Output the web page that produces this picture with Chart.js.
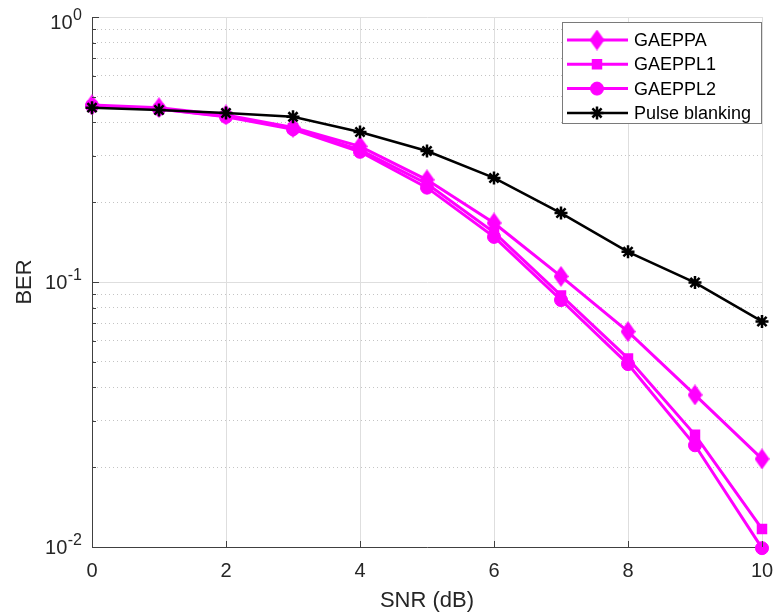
<!DOCTYPE html>
<html>
<head>
<meta charset="utf-8">
<script src="https://cdn.jsdelivr.net/npm/chart.js"></script>
<style>
    html, body { margin: 0; padding: 0; background: #ffffff; }
</style>
</head>
<body>
<canvas id="chart-ber" width="773" height="615"></canvas>
<script>

// BER theo SNR cho cac phuong phap
var snr = [0, 1, 2, 3, 4, 5, 6, 7, 8, 9, 10];
var berGaeppa = [0.466, 0.455, 0.427, 0.383, 0.325, 0.243, 0.167, 0.105, 0.065, 0.0375, 0.0215];
var berGaeppl1 = [0.462, 0.450, 0.422, 0.380, 0.315, 0.235, 0.154, 0.089, 0.0515, 0.0265, 0.0117];
var berGaeppl2 = [0.462, 0.450, 0.420, 0.377, 0.310, 0.227, 0.148, 0.0855, 0.049, 0.0242, 0.0099];
var berPulse = [0.455, 0.446, 0.434, 0.420, 0.368, 0.312, 0.247, 0.182, 0.130, 0.0995, 0.071];

var seriesNames = ["GAEPPA", "GAEPPL1", "GAEPPL2", "Pulse blanking"];
var xTicks = [0, 2, 4, 6, 8, 10];
var yExponents = [0, -1, -2];

var MAGENTA = "#ff00ff";
var FONT = "'Liberation Sans', Arial, sans-serif";

// marker hinh thoi (cao hon rong)
function makeDiamond(w, h, color) {
    var c = document.createElement("canvas");
    c.width = w;
    c.height = h;
    var g = c.getContext("2d");
    g.fillStyle = color;
    g.beginPath();
    g.moveTo(w / 2, 0);
    g.lineTo(w, h / 2);
    g.lineTo(w / 2, h);
    g.lineTo(0, h / 2);
    g.closePath();
    g.fill();
    return c;
}
var diamond = makeDiamond(15, 21, MAGENTA);

function toPoints(values) {
    return values.map(function (v, i) { return { x: snr[i], y: v }; });
}

// nhan truc y dang 10^n, vach chia va chu thich
var berDecor = {
    id: "berDecor",
    afterDraw: function (chart) {
        var ctx = chart.ctx;
        var xs = chart.scales.x;
        var ys = chart.scales.y;
        var area = chart.chartArea;

        ctx.save();

        // vach chia huong vao trong
        ctx.strokeStyle = "#404040";
        ctx.lineWidth = 1;
        ctx.beginPath();
        xTicks.forEach(function (t) {
            var px = Math.round(xs.getPixelForValue(t)) + 0.5;
            ctx.moveTo(px, area.bottom);
            ctx.lineTo(px, area.bottom - 6);
        });
        ys.ticks.forEach(function (t) {
            var py = Math.round(ys.getPixelForValue(t.value)) + 0.5;
            ctx.moveTo(area.left, py);
            ctx.lineTo(area.left + (t.major ? 7 : 4), py);
        });
        ctx.stroke();

        // nhan 10^n
        ctx.fillStyle = "#262626";
        ctx.textBaseline = "alphabetic";
        ctx.textAlign = "right";
        yExponents.forEach(function (e) {
            var y = ys.getPixelForValue(Math.pow(10, e));
            // nhan tren cung bi day xuong de so mu khong cham mep
            var base = Math.max(y + 7, 29);
            var right = 82;
            ctx.font = "16px " + FONT;
            var expText = String(e);
            var ew = ctx.measureText(expText).width;
            ctx.fillText(expText, right, base - 9);
            ctx.font = "20px " + FONT;
            ctx.fillText("10", right - ew - 0.5, base);
        });

        // chu thich
        var lx = 562, ly = 22, lw = 199, lh = 101;
        ctx.fillStyle = "#ffffff";
        ctx.fillRect(lx, ly, lw, lh);
        ctx.strokeStyle = "#7a7a7a";
        ctx.lineWidth = 1;
        ctx.strokeRect(lx + 0.5, ly + 0.5, lw, lh);

        ctx.textAlign = "left";
        ctx.textBaseline = "middle";
        ctx.font = "18px " + FONT;
        chart.data.datasets.forEach(function (ds, i) {
            var y = ly + 18 + i * 24.3;
            ctx.strokeStyle = ds.borderColor;
            ctx.lineWidth = ds.borderWidth;
            ctx.beginPath();
            ctx.moveTo(567, y);
            ctx.lineTo(628, y);
            ctx.stroke();

            ctx.fillStyle = ds.pointBackgroundColor;
            ctx.strokeStyle = ds.pointBorderColor;
            ctx.lineWidth = ds.pointBorderWidth;
            Chart.helpers.drawPoint(ctx, {
                pointStyle: ds.pointStyle,
                radius: ds.pointRadius,
                rotation: 0,
                borderWidth: ds.pointBorderWidth
            }, 597, y);

            ctx.fillStyle = "#000000";
            ctx.fillText(ds.label, 634, y + 1);
        });

        ctx.restore();
    }
};

function lineSet(label, values, color, width, style, radius, pointBorder, order) {
    return {
        label: label,
        data: toPoints(values),
        borderColor: color,
        backgroundColor: color,
        borderWidth: width,
        pointStyle: style,
        pointRadius: radius,
        pointBackgroundColor: color,
        pointBorderColor: color,
        pointBorderWidth: pointBorder,
        tension: 0,
        fill: false,
        clip: false,
        order: order
    };
}

var ctx = document.getElementById("chart-ber").getContext("2d");
var berChart = new Chart(ctx, {
    type: "line",
    data: {
        datasets: [
            lineSet(seriesNames[0], berGaeppa, MAGENTA, 3, diamond, 9, 0, 4),
            lineSet(seriesNames[1], berGaeppl1, MAGENTA, 3, "rect", 6, 2, 3),
            lineSet(seriesNames[2], berGaeppl2, MAGENTA, 3, "circle", 6.5, 1, 2),
            lineSet(seriesNames[3], berPulse, "#000000", 2.5, "star", 6.5, 2.5, 1)
        ]
    },
    options: {
        responsive: false,
        animation: false,
        events: [],
        layout: {
            padding: { left: 0, top: 17, right: 11, bottom: 0 }
        },
        scales: {
            x: {
                type: "linear",
                min: 0,
                max: 10,
                afterFit: function (scale) {
                    scale.height = 68;
                    // khong chua cho nhan dau/cuoi tran ra ngoai
                    scale.paddingLeft = 0;
                    scale.paddingRight = 0;
                },
                afterBuildTicks: function (scale) {
                    scale.ticks = xTicks.map(function (v) { return { value: v }; });
                },
                ticks: {
                    font: { family: FONT, size: 20 },
                    color: "#262626",
                    padding: 12,
                    maxRotation: 0
                },
                grid: {
                    color: "#dedede",
                    lineWidth: 1,
                    drawTicks: false
                },
                border: { color: "#404040", width: 1 },
                title: {
                    display: true,
                    text: "SNR (dB)",
                    color: "#262626",
                    font: { family: FONT, size: 22 },
                    padding: { top: 0, bottom: 1 }
                }
            },
            y: {
                type: "logarithmic",
                min: 0.01,
                max: 1,
                afterFit: function (scale) {
                    scale.width = 92;
                    scale.paddingTop = 0;
                    scale.paddingBottom = 0;
                },
                afterBuildTicks: function (scale) {
                    var list = [];
                    for (var e = -2; e < 0; e++) {
                        for (var m = 1; m <= 9; m++) {
                            list.push({ value: m * Math.pow(10, e), major: m === 1 });
                        }
                    }
                    list.push({ value: 1, major: true });
                    scale.ticks = list;
                },
                ticks: { display: false },
                grid: {
                    color: function (c) {
                        return c.tick && !c.tick.major ? "#c4c4c4" : "#dedede";
                    },
                    lineWidth: 1,
                    drawTicks: false
                },
                border: {
                    color: "#404040",
                    width: 1,
                    dash: function (c) {
                        return c.tick && !c.tick.major ? [1, 3] : [];
                    }
                },
                title: {
                    display: true,
                    text: "BER",
                    color: "#262626",
                    font: { family: FONT, size: 22 },
                    padding: { top: 12, bottom: 0 }
                }
            }
        },
        plugins: {
            legend: { display: false },
            tooltip: { enabled: false }
        }
    },
    plugins: [berDecor]
});
</script>
</body>
</html>
